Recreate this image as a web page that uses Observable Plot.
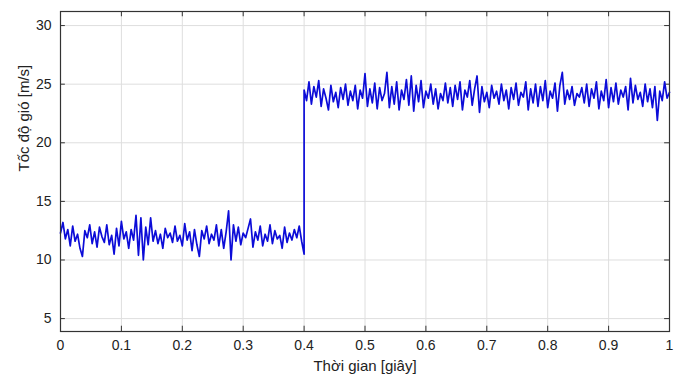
<!DOCTYPE html>
<html><head><meta charset="utf-8">
<script src="https://cdn.jsdelivr.net/npm/d3@7"></script>
<script src="https://cdn.jsdelivr.net/npm/@observablehq/plot@0.6"></script>
<style>body{margin:0;background:#fff}</style>
</head><body><div id="chart"></div>
<script>
// Wind speed samples, 0 .. 0.4 s (step 0.004 s)
const lowSpeed = [
12.3,13.2,11.8,12.6,11.2,12.9,11.6,12.2,11.0,10.3,
12.5,11.9,13.0,11.4,12.4,11.1,12.8,12.0,11.5,13.0,
11.3,12.1,10.5,12.7,11.2,13.3,11.8,12.4,11.0,12.6,
11.7,13.8,10.4,13.6,10.0,12.8,11.3,13.6,11.6,12.5,
11.4,12.2,11.0,12.7,11.9,12.3,11.5,12.9,11.6,12.1,
11.2,13.1,11.7,12.4,10.8,12.6,11.3,10.3,12.5,11.8,
12.9,11.4,12.2,11.7,13.0,11.2,12.6,11.0,12.4,14.2,
10.0,13.0,11.6,12.8,11.3,12.3,11.9,12.7,13.5,11.1,
12.4,11.7,12.9,11.2,12.2,11.6,13.0,11.4,12.5,11.8,
12.1,11.0,12.8,11.5,12.3,11.7,12.6,11.9,12.9,11.6,
10.5
];
// Wind speed samples, 0.4 .. 1.0 s (step 0.004 s)
const highSpeed = [
24.5,
23.6,25.2,23.3,24.8,23.9,25.3,23.1,24.6,23.8,22.8,
24.9,23.5,24.3,23.0,24.7,23.7,25.0,23.2,24.4,23.6,
24.9,22.9,24.5,23.8,25.9,23.1,24.6,23.4,25.1,22.9,
24.7,23.6,24.2,26.0,23.0,24.8,23.3,25.2,22.8,24.5,
23.7,25.4,23.2,25.7,22.7,24.9,23.5,25.3,23.0,24.4,
23.8,25.0,23.3,24.6,22.9,24.2,23.6,25.1,23.4,24.7,
23.1,24.9,23.7,25.2,22.8,24.5,23.9,25.3,23.2,24.6,
25.7,22.6,24.8,23.5,24.3,23.0,24.9,23.8,24.4,23.3,
25.0,23.6,24.5,22.9,24.7,23.7,25.1,23.2,24.3,23.9,
25.2,22.8,24.6,23.4,25.0,23.1,24.8,23.6,25.3,23.0,
24.4,23.8,25.1,22.7,24.9,26.0,23.3,24.5,23.7,24.8,
23.2,24.2,23.9,24.7,23.4,25.0,23.1,24.6,23.8,25.2,
22.9,24.4,23.6,25.4,23.0,24.7,23.5,25.1,23.3,24.5,
23.9,24.8,22.8,25.5,23.4,24.9,23.7,24.3,23.1,25.0,
23.5,24.6,23.0,24.8,21.9,24.4,23.6,25.2,23.8,24.3
];
const timeStep = 0.004;
const stepTime = 0.4;
const xTicks = [0, 0.1, 0.2, 0.3, 0.4, 0.5, 0.6, 0.7, 0.8, 0.9, 1];
const yTicks = [5, 10, 15, 20, 25, 30];
const xDomain = [0, 1];
const yDomain = [3.9, 31.2];
const xLabel = "Thời gian [giây]";
const yLabel = "Tốc độ gió [m/s]";

const data = [];
lowSpeed.forEach((v, i) => data.push({t: i * timeStep, v}));
highSpeed.forEach((v, j) => data.push({t: stepTime + j * timeStep, v}));

const tickLenY = 0.45, tickLenX = 0.008;
const axisColor = "#333";

const chart = Plot.plot({
  width: 682,
  height: 378,
  marginLeft: 60,
  marginRight: 13,
  marginTop: 11,
  marginBottom: 47,
  style: {fontFamily: "'Liberation Sans', Arial, sans-serif", fontSize: "14px", color: "#222", background: "#fff"},
  x: {domain: xDomain, ticks: xTicks, tickSize: 0, tickPadding: 9, tickFormat: d => String(d), label: null},
  y: {domain: yDomain, ticks: yTicks, tickSize: 0, tickPadding: 9, tickFormat: d => String(d), label: null},
  marks: [
    Plot.ruleX(xTicks, {x: d => d, stroke: "#dedede", strokeWidth: 1}),
    Plot.ruleY(yTicks, {y: d => d, stroke: "#dedede", strokeWidth: 1}),
    Plot.ruleX(xTicks, {x: d => d, y1: yDomain[0], y2: yDomain[0] + tickLenY, stroke: axisColor}),
    Plot.ruleX(xTicks, {x: d => d, y1: yDomain[1] - tickLenY, y2: yDomain[1], stroke: axisColor}),
    Plot.ruleY(yTicks, {y: d => d, x1: xDomain[0], x2: xDomain[0] + tickLenX, stroke: axisColor}),
    Plot.ruleY(yTicks, {y: d => d, x1: xDomain[1] - tickLenX, x2: xDomain[1], stroke: axisColor}),
    Plot.line(data, {x: "t", y: "v", stroke: "#0c0cd8", strokeWidth: 1.7}),
    Plot.frame({stroke: axisColor, strokeWidth: 1.2}),
    Plot.text([xLabel], {frameAnchor: "bottom", dy: 39, fontSize: 15, fill: "#222"}),
    Plot.text([yLabel], {frameAnchor: "left", dx: -36, rotate: -90, fontSize: 15, fill: "#222"})
  ]
});
document.getElementById("chart").appendChild(chart);
</script>
</body></html>
